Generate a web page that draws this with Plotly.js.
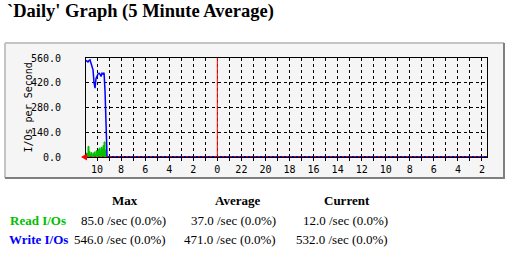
<!DOCTYPE html>
<html><head><meta charset="utf-8">
<script src="https://cdn.plot.ly/plotly-3.0.1.min.js"></script>
<style>html,body{margin:0;padding:0;background:#fff;overflow:hidden}</style>
</head><body><div id="chart" style="width:532px;height:256px"></div>
<script>
// ---- data ----
const sampleMinutesAgo = [0,5,10,15,20,25,30,35,40,45,50,55,60,65,70,75,80,85,90,95,100,105];
const writeIOs = [546,540,538,545,549,530,515,493,421,389,445,464,470,474,468,455,474,470,477,370,136,0];
const readIOs  = [22,20,60,30,15,25,12,20,28,15,35,30,40,50,35,55,45,65,85,40,0,0];
const hourLabels = ["10","8","6","4","2","0","22","20","18","16","14","12","10","8","6","4","2"];
const yTicks = [0,140,280,420,560];
const seriesNames = ["Read I/Os","Write I/Os"];
const columnHeads = ["Max","Average","Current"];
const maxVals = ["85.0 /sec (0.0%)","546.0 /sec (0.0%)"];
const avgVals = ["37.0 /sec (0.0%)","471.0 /sec (0.0%)"];
const curVals = ["12.0 /sec (0.0%)","532.0 /sec (0.0%)"];
const titleText = "`Daily' Graph (5 Minute Average)";
const yTitle = "I/Os per Second";
const nowMinutes = 10*60 + 55;
const windowMinutes = 2000;

// ---- layout helpers (pixel -> paper) ----
const L = 86, R = 487, T = 58, B = 157;
const W = 532, H = 256;
const xp = px => (px - L) / (R - L);
const yp = py => (B - py) / (B - T);

const offset = nowMinutes % 60;
const tickvals = [], ticktext = [];
hourLabels.forEach((lab, i) => {
  tickvals.push(offset + 120*i); ticktext.push(lab);
  const half = offset + 120*i + 60;
  if (half < windowMinutes) { tickvals.push(half); ticktext.push(""); }
});
const midnight = offset + 120*hourLabels.indexOf("0");

const mono = "DejaVu Sans Mono";
const serif = "Liberation Serif, Times New Roman, Times, Tinos, Noto Serif, DejaVu Serif, FreeSerif, serif";
const colors = ["#00c000", "#0000ff"];

const traces = [
  {x: sampleMinutesAgo, y: readIOs, type: "scatter", mode: "lines", fill: "tozeroy",
   fillcolor: colors[0], line: {color: colors[0], width: 1, shape: "hv"}, hoverinfo: "skip"},
  {x: sampleMinutesAgo, y: writeIOs, type: "scatter", mode: "lines",
   line: {color: colors[1], width: 1.5}, hoverinfo: "skip"}
];

const ann = [];
ann.push({text: "<b>" + titleText + "</b>", x: xp(5), y: yp(12), xref: "paper", yref: "paper", xanchor: "left", yanchor: "middle",
  showarrow: false, font: {family: serif, size: 18.5, color: "#000"}});
ann.push({text: yTitle, x: xp(20), y: yp(108), xref: "paper", yref: "paper", textangle: -90,
  showarrow: false, font: {family: mono, size: 10, color: "#000"}});
const headX = [125, 237, 347];
columnHeads.forEach((h, i) => ann.push({text: "<b>" + h + "</b>", x: xp(headX[i]), y: yp(200), xref: "paper", yref: "paper",
  xanchor: "center", yanchor: "middle", showarrow: false, font: {family: serif, size: 13, color: "#000"}}));
const rowY = [220, 240];
const valRight = [168, 278, 390];
seriesNames.forEach((n, r) => {
  ann.push({text: "<b>" + n + "</b>", x: xp(38), y: yp(rowY[r]), xref: "paper", yref: "paper", xanchor: "center", yanchor: "middle",
    showarrow: false, font: {family: serif, size: 13, color: colors[r]}});
  [maxVals, avgVals, curVals].forEach((arr, c) => ann.push({text: arr[r], x: xp(valRight[c]), y: yp(rowY[r]),
    xref: "paper", yref: "paper", xanchor: "right", yanchor: "middle", showarrow: false,
    font: {family: serif, size: 13, color: "#000"}}));
});

const shapes = [
  {type: "rect", xref: "paper", yref: "paper", x0: xp(5), x1: xp(504), y0: yp(43), y1: yp(178),
   fillcolor: "#f5f5f5", line: {width: 0}, layer: "below"},
  {type: "line", xref: "paper", yref: "paper", x0: xp(5), x1: xp(504), y0: yp(43), y1: yp(43), line: {color: "#c4c4c4", width: 2}},
  {type: "line", xref: "paper", yref: "paper", x0: xp(5), x1: xp(5), y0: yp(43), y1: yp(178), line: {color: "#c4c4c4", width: 2}},
  {type: "line", xref: "paper", yref: "paper", x0: xp(5), x1: xp(505), y0: yp(178), y1: yp(178), line: {color: "#808080", width: 2}},
  {type: "line", xref: "paper", yref: "paper", x0: xp(504), x1: xp(504), y0: yp(43), y1: yp(178), line: {color: "#808080", width: 2}},
  {type: "line", xref: "x", yref: "paper", x0: midnight, x1: midnight, y0: 0, y1: 1, line: {color: "#ff0000", width: 1}},
  {type: "line", xref: "paper", yref: "y", x0: 0, x1: 1, y0: 0, y1: 0, line: {color: "#ff0000", width: 1.5, dash: "2px,2px"}},
  {type: "path", xref: "paper", yref: "paper",
   path: `M ${xp(81)} ${yp(157)} L ${xp(87)} ${yp(153.5)} L ${xp(87)} ${yp(160.5)} Z`,
   fillcolor: "#ff0000", line: {color: "#ff0000", width: 0}}
];

const layout = {
  width: W, height: H,
  margin: {l: L, r: W - R, t: T, b: H - B, pad: 0},
  paper_bgcolor: "#ffffff", plot_bgcolor: "#f5f5f5",
  showlegend: false,
  xaxis: {range: [0, windowMinutes], tickmode: "array", tickvals: tickvals, ticktext: ticktext,
    ticks: "outside", ticklen: 3, tickcolor: "#000", tickwidth: 1,
    showgrid: true, gridcolor: "#000", griddash: "dot", gridwidth: 1,
    showline: true, mirror: true, linecolor: "#000", linewidth: 1, zeroline: false,
    tickfont: {family: mono, size: 10, color: "#000"}, fixedrange: true},
  yaxis: {range: [0, 560], tickmode: "array", tickvals: yTicks, ticktext: yTicks.map(v => v.toFixed(1)),
    ticks: "", ticklabelstandoff: 22,
    showgrid: true, gridcolor: "#000", griddash: "dot", gridwidth: 1,
    showline: true, mirror: true, linecolor: "#000", linewidth: 1,
    zeroline: true, zerolinecolor: "#0000ff", zerolinewidth: 2,
    tickfont: {family: mono, size: 10, color: "#000"}, fixedrange: true},
  annotations: ann,
  shapes: shapes
};

Plotly.newPlot("chart", traces, layout, {staticPlot: true, displayModeBar: false});
</script></body></html>
